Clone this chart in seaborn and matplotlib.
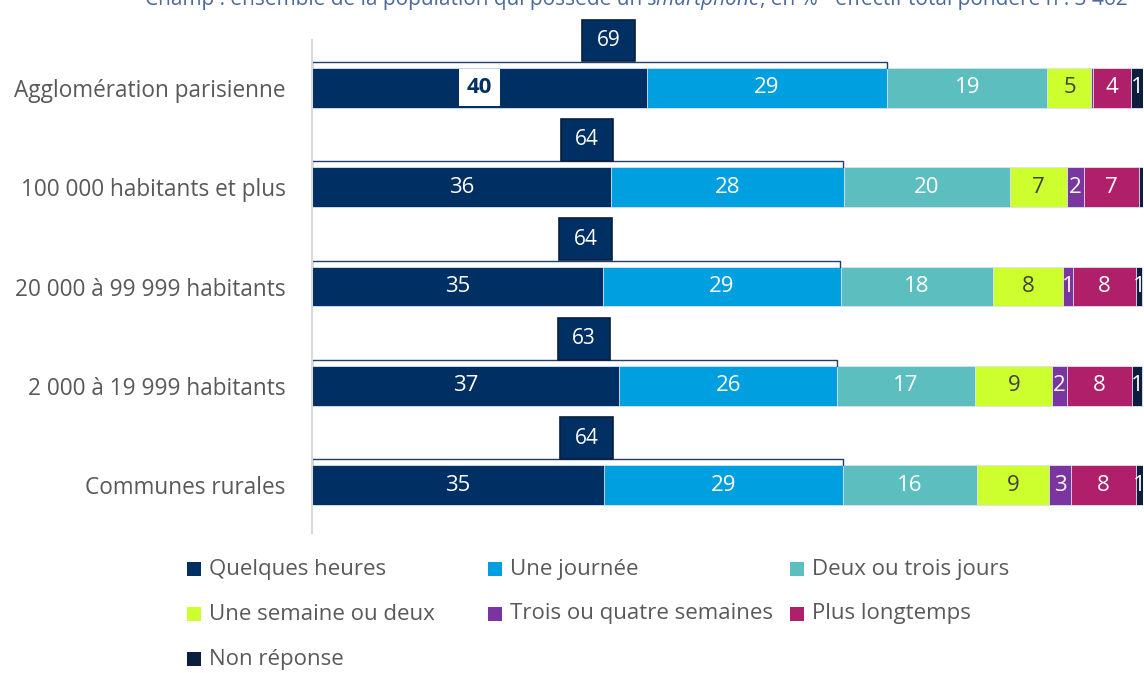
import numpy as np
import pandas as pd
import matplotlib.pyplot as plt
import seaborn as sns
from matplotlib.patches import Rectangle

# data (segment widths in %, labels as printed)
categories = ["Agglomération parisienne", "100 000 habitants et plus",
              "20 000 à 99 999 habitants", "2 000 à 19 999 habitants",
              "Communes rurales"]
series = ["Quelques heures", "Une journée", "Deux ou trois jours",
          "Une semaine ou deux", "Trois ou quatre semaines", "Plus longtemps",
          "Non réponse"]
quelques_heures = [40.3, 36.0, 35.0, 37.0, 35.1]
une_journee = [28.9, 28.0, 28.6, 26.2, 28.8]
deux_trois_jours = [19.3, 20.0, 18.3, 16.6, 16.1]
une_deux_semaines = [5.3, 6.9, 8.5, 9.3, 8.7]
trois_quatre_semaines = [0.2, 2.0, 1.2, 1.7, 2.6]
plus_longtemps = [4.6, 6.6, 7.5, 7.9, 7.8]
non_reponse = [1.5, 0.5, 0.8, 1.2, 1.0]

labels_printed = [
    ["40", "36", "35", "37", "35"],
    ["29", "28", "29", "26", "29"],
    ["19", "20", "18", "17", "16"],
    ["5", "7", "8", "9", "9"],
    [None, "2", "1", "2", "3"],
    ["4", "7", "8", "8", "8"],
    ["1", None, "1", "1", "1"],
]
bracket_totals = [69, 64, 64, 63, 64]

subtitle_parts = ["Champ : ensemble de la population qui possède un ",
                  "smartphone", ", en % - effectif total pondéré n : 3 462"]

colors = ["#003063", "#009fe0", "#5dbec0", "#cdff2f", "#7a35a0", "#b01f6a", "#0b1e3d"]
label_colors = ["white", "white", "white", "#404040", "white", "white", "white"]

values = np.array([quelques_heures, une_journee, deux_trois_jours, une_deux_semaines,
                   trois_quatre_semaines, plus_longtemps, non_reponse])
cum = values.cumsum(axis=0)

sns.set_theme(style="white")
plt.rcParams["font.family"] = ["Open Sans", "DejaVu Sans"]

fig = plt.figure(figsize=(11.44, 6.73), dpi=100)
ax = fig.add_axes([312 / 1144, 1 - 533 / 673, 831 / 1144, 493 / 673])

# stacked bars: draw cumulative totals from the last series back to the first
for i in range(len(series) - 1, -1, -1):
    df = pd.DataFrame({"cat": categories, "val": cum[i]})
    sns.barplot(data=df, x="val", y="cat", orient="h", color=colors[i],
                saturation=1, width=0.4, edgecolor="#dde6ef", linewidth=0.6, ax=ax)

# segment labels
for i in range(len(series)):
    for j in range(len(categories)):
        lab = labels_printed[i][j]
        if lab is None:
            continue
        xc = cum[i][j] - values[i][j] / 2
        if i == 0 and j == 0:
            ax.text(xc, j, lab, ha="center", va="center", fontsize=16,
                    fontweight="bold", color="#003063",
                    bbox=dict(boxstyle="square,pad=0.36", fc="white", ec="none"))
        else:
            ax.text(xc, j, lab, ha="center", va="center", fontsize=16,
                    color=label_colors[i], clip_on=False)

# brackets over the first two segments, with total box
for j, tot in enumerate(bracket_totals):
    s = cum[1][j]
    y_top = j - 0.2
    y_line = j - 0.26
    ax.plot([0.05, 0.05, s - 0.05, s - 0.05], [y_top, y_line, y_line, y_top],
            color="#1f3f6e", lw=1.0, solid_joinstyle="round", clip_on=False)
    bw, bh = 6.3, 0.42
    xc = s / 2 + 1.1
    ax.add_patch(Rectangle((xc - bw / 2, y_line - 0.005 - bh), bw, bh,
                           fc="#003063", ec="#0b1e3d", lw=1.2, clip_on=False, zorder=5))
    ax.text(xc, y_line - 0.005 - bh / 2, str(tot), ha="center", va="center",
            fontsize=15, color="white", zorder=6)

ax.set_xlim(0, 100)
ax.set_ylim(4.48, -0.48)
ax.set_xlabel("")
ax.set_ylabel("")
ax.set_xticks([])
ax.tick_params(axis="y", length=0, pad=19, labelsize=16.3, labelcolor="#595959")
for side in ["top", "right", "bottom"]:
    ax.spines[side].set_visible(False)
ax.spines["left"].set_color("#d9d9d9")
ax.spines["left"].set_linewidth(1.5)

# legend laid out as in the reference (3 columns, row-wise)
col_x = [187, 488, 790]
row_y = [569, 614, 659]
for i, name in enumerate(series):
    r, c = divmod(i, 3)
    x0 = col_x[c] / 1144
    y0 = 1 - row_y[r] / 673
    fig.patches.append(Rectangle((x0, y0 - 7 / 673), 14 / 1144, 14 / 673,
                                 transform=fig.transFigure, fc=colors[i], ec="none"))
    fig.text(x0 + 22 / 1144, y0, name, ha="left", va="center", fontsize=16,
             color="#595959")

# subtitle, cut at the top edge of the picture as in the reference
renderer = fig.canvas.get_renderer()
x = 145 / 1144
ybase = 1 - 5 / 673
for k, part in enumerate(subtitle_parts):
    t = fig.text(x, ybase, part, ha="left", va="baseline", fontsize=15,
                 color="#4a6a9c", style="italic" if k == 1 else "normal")
    bb = t.get_window_extent(renderer=renderer)
    x = bb.x1 / fig.bbox.width

fig.savefig("out.png", dpi=100)
